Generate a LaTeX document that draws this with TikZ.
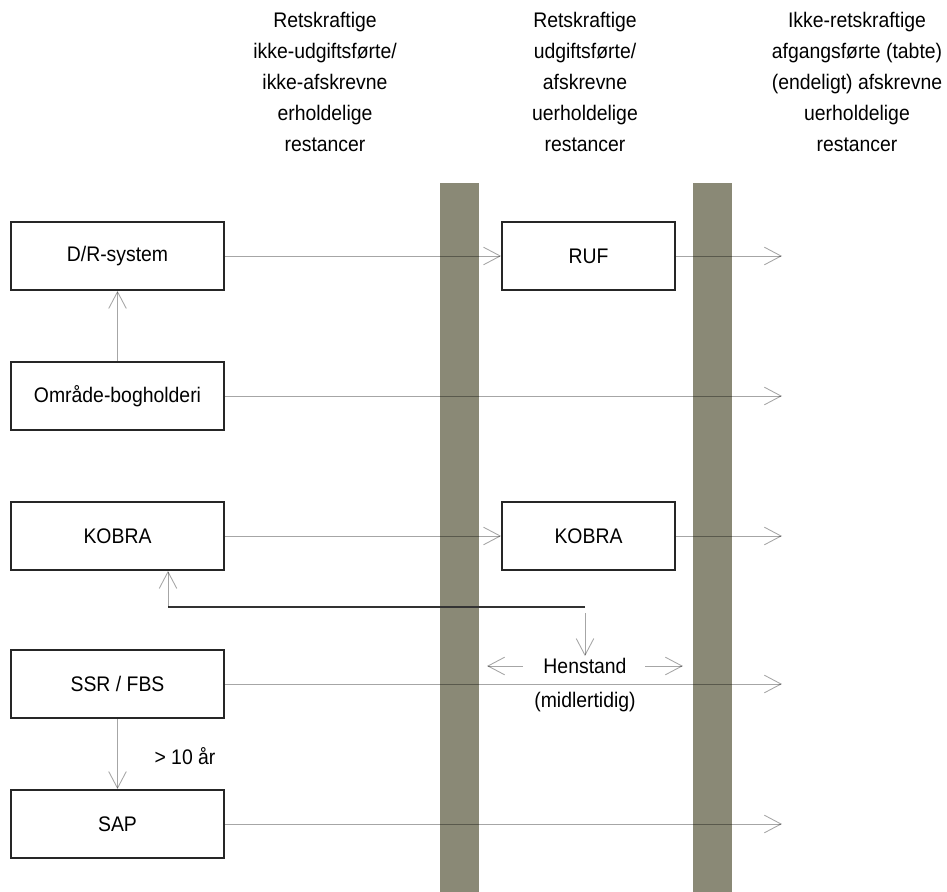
\documentclass[tikz,border=0pt]{standalone}
\usepackage{fontspec}
\setmainfont{Liberation Sans}[FakeStretch=0.92]
\usepackage{xcolor}
\usetikzlibrary{arrows.meta,positioning,calc}
\definecolor{barcol}{RGB}{138,137,118}

\tikzset{
  sysbox/.style={draw=black!85, line width=1pt, fill=white, minimum width=4.26cm,
    minimum height=1.36cm, inner sep=0pt, font=\fontsize{12}{14}\selectfont},
  midbox/.style={sysbox, minimum width=3.46cm},
  flow/.style={draw=black, draw opacity=0.35, line width=0.5pt,
    -{Straight Barb[length=9.5pt,width=10pt]}},
  head/.style={align=center, font=\fontsize{12}{17.6}\selectfont},
  lbl/.style={font=\fontsize{12}{14}\selectfont, inner sep=1pt}
}

\begin{document}
\begin{tikzpicture}[x=0.02cm,y=-0.02cm]
  \useasboundingbox (0,0) rectangle (947,892);

  % BARS
  \fill[barcol] (440,183) rectangle (479,892);
  \fill[barcol] (693,183) rectangle (732,892);

  % HEADINGS
  \node[head] (colA) at (325,82) {Retskraftige\\ikke-udgiftsførte/\\ikke-afskrevne\\erholdelige\\restancer};
  \node[head] (colB) at (585,82) {Retskraftige\\udgiftsførte/\\afskrevne\\uerholdelige\\restancer};
  \node[head] (colC) at (857,82) {Ikke-retskraftige\\afgangsførte (tabte)\\(endeligt) afskrevne\\uerholdelige\\restancer};

  % SYSTEMS
  \node[sysbox] (dr)    at (117.5,256) {D/R-system};
  \node[sysbox] (omr)   at (117.5,396) {Område-bogholderi};
  \node[sysbox] (kobA)  at (117.5,536) {KOBRA};
  \node[sysbox] (ssr)   at (117.5,684) {SSR / FBS};
  \node[sysbox] (sap)   at (117.5,824) {SAP};
  \node[midbox] (ruf)   at (588.5,256) {RUF};
  \node[midbox] (kobB)  at (588.5,536) {KOBRA};

  \node[lbl] (hen)  at (585,666) {Henstand};
  \node[lbl] (midl) at (585,702) {(midlertidig)};
  \node[lbl] (aar)  at (185,756) {> 10 år};

  % FREE ENDS
  \coordinate (eRuf) at (782,256);
  \coordinate (eOmr) at (782,396);
  \coordinate (eKob) at (782,536);
  \coordinate (eSsr) at (782,684);
  \coordinate (eSap) at (782,824);
  \coordinate (bendR) at (585,607);
  \coordinate (bendL) at (168,607);
  \coordinate (dnTop) at (585,613);
  \coordinate (henL0) at (523,666);
  \coordinate (henL1) at (487,666);
  \coordinate (henR0) at (645,666);
  \coordinate (henR1) at (683,666);

  % FLOWS
  \draw[flow] (dr) -- (ruf);
  \draw[flow] (ruf) -- (eRuf);
  \draw[flow] (omr) -- (dr);
  \draw[flow] (omr) -- (eOmr);
  \draw[flow] (kobA) -- (kobB);
  \draw[flow] (kobB) -- (eKob);
  \draw[flow] (ssr) -- (eSsr);
  \draw[flow] (ssr) -- (sap);
  \draw[flow] (sap) -- (eSap);

  % HENSTAND
  \draw[black!80, line width=0.6pt] (bendR) -- (bendL);
  \draw[flow] (bendL) -- (bendL |- kobA.south);
  \draw[flow] (dnTop) -- (hen.north);
  \draw[flow] (henL0) -- (henL1);
  \draw[flow] (henR0) -- (henR1);
\end{tikzpicture}
\end{document}
